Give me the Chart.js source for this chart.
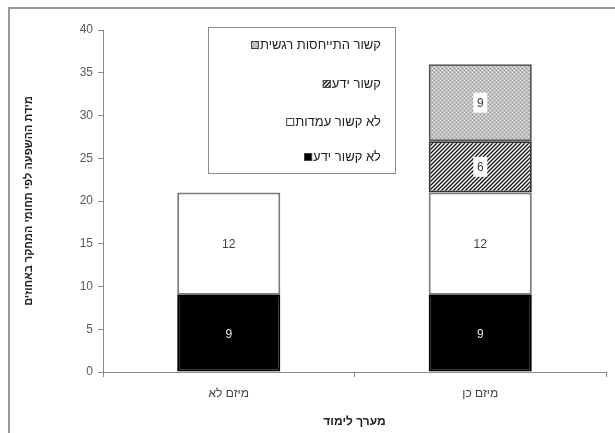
<!DOCTYPE html>
<html>
<head>
<meta charset="utf-8">
<script src="https://cdn.jsdelivr.net/npm/chart.js@4.4.1/dist/chart.umd.min.js"></script>
<style>
    body { margin: 0; background: #fff; }
    #wrap { position: relative; width: 615px; height: 433px; overflow: hidden; }
    #frame {
        position: absolute; left: 8px; top: 7px; width: 700px; height: 500px;
        border-top: 2px solid #9a9a9a; border-left: 2px solid #9a9a9a;
    }
    canvas { position: absolute; left: 0; top: 0; }
</style>
</head>
<body>
<div id="wrap">
    <div id="frame"></div>
    <canvas id="myChart" width="615" height="433"></canvas>
</div>
<script>
// data
const categories = ['מיזם לא', 'מיזם כן'];
const seriesNames = ['לא קשור ידע', 'לא קשור עמדות', 'קשור ידע', 'קשור התייחסות רגשית'];
const noLinkKnowledge = [9, 9];
const noLinkAttitudes = [12, 12];
const linkKnowledge = [null, 6];
const linkEmotional = [null, 9];
const yTicks = [0, 5, 10, 15, 20, 25, 30, 35, 40];
const yTitle = 'מידת ההשפעה לפי תחומי המחקר באחוזים';
const xTitle = 'מערך לימוד';

const FONT = "'Liberation Sans', 'DejaVu Sans', sans-serif";

// patterns
function makeHatch() {
    const c = document.createElement('canvas');
    c.width = 4; c.height = 4;
    const g = c.getContext('2d');
    g.fillStyle = '#fff';
    g.fillRect(0, 0, 4, 4);
    g.strokeStyle = '#111';
    g.lineWidth = 1.3;
    g.beginPath();
    g.moveTo(-1, 5); g.lineTo(5, -1);
    g.moveTo(-1, 1); g.lineTo(1, -1);
    g.moveTo(3, 5); g.lineTo(5, 3);
    g.stroke();
    return g.createPattern(c, 'repeat');
}

function makeDots() {
    const c = document.createElement('canvas');
    c.width = 4; c.height = 4;
    const g = c.getContext('2d');
    g.fillStyle = '#bfbfbf';
    g.fillRect(0, 0, 4, 4);
    g.fillStyle = '#e6e6e6';
    g.fillRect(0, 0, 1, 1);
    g.fillRect(2, 2, 1, 1);
    g.fillStyle = '#9a9a9a';
    g.fillRect(2, 0, 1, 1);
    g.fillRect(0, 2, 1, 1);
    return g.createPattern(c, 'repeat');
}

const hatch = makeHatch();
const dots = makeDots();

// value labels inside segments
const valueLabels = {
    id: 'valueLabels',
    afterDatasetsDraw(chart) {
        const ctx = chart.ctx;
        ctx.save();
        ctx.font = '12px ' + FONT;
        ctx.textAlign = 'center';
        ctx.textBaseline = 'middle';
        chart.data.datasets.forEach((ds, i) => {
            chart.getDatasetMeta(i).data.forEach((bar, j) => {
                const v = ds.data[j];
                if (v === null || v === 0) return;
                const x = bar.x;
                const y = (bar.y + bar.base) / 2;
                if (ds.boxLabel) { // white box behind the number
                    ctx.fillStyle = '#fff';
                    ctx.fillRect(x - 7, y - 10, 14, 20);
                }
                ctx.fillStyle = ds.labelColor;
                ctx.fillText(String(v), x, y + 1);
            });
        });
        ctx.restore();
    }
};

// legend box like the original
const boxLegend = {
    id: 'boxLegend',
    afterDraw(chart) {
        const ctx = chart.ctx;
        ctx.save();
        ctx.strokeStyle = '#8c8c8c';
        ctx.lineWidth = 1;
        ctx.fillStyle = '#fff';
        ctx.fillRect(208.5, 27.5, 187, 146);
        ctx.strokeRect(208.5, 27.5, 187, 146);
        ctx.font = '13px ' + FONT;
        ctx.textBaseline = 'middle';
        ctx.textAlign = 'right';
        const ys = [45, 84, 122, 157];
        const ds = chart.data.datasets.slice().reverse();
        ds.forEach((d, k) => {
            const y = ys[k];
            ctx.fillStyle = '#222';
            ctx.fillText(d.label, 381, y);
            const w = ctx.measureText(d.label).width;
            const mx = 381 - w - 9;
            ctx.fillStyle = d.backgroundColor;
            ctx.fillRect(mx, y - 4, 8, 8);
            ctx.strokeStyle = '#444';
            ctx.strokeRect(mx + 0.5, y - 3.5, 7, 7);
        });
        ctx.restore();
    }
};

const ctx = document.getElementById('myChart');
new Chart(ctx, {
    type: 'bar',
    data: {
        labels: categories,
        datasets: [
            { label: seriesNames[0], data: noLinkKnowledge, backgroundColor: '#000', borderColor: '#000', labelColor: '#e8e8e8' },
            { label: seriesNames[1], data: noLinkAttitudes, backgroundColor: '#fff', borderColor: '#7a7a7a', labelColor: '#404040' },
            { label: seriesNames[2], data: linkKnowledge, backgroundColor: hatch, borderColor: '#333', labelColor: '#404040', boxLabel: true },
            { label: seriesNames[3], data: linkEmotional, backgroundColor: dots, borderColor: '#555', labelColor: '#404040', boxLabel: true }
        ]
    },
    options: {
        responsive: false,
        animation: false,
        categoryPercentage: 1,
        barPercentage: 0.41,
        datasets: { bar: { borderWidth: 2, borderSkipped: false } },
        layout: { padding: { top: 30, right: 9, left: 0, bottom: 0 } },
        plugins: { legend: { display: false }, tooltip: { enabled: false } },
        scales: {
            x: {
                stacked: true,
                border: { color: '#8a8a8a' },
                grid: { drawOnChartArea: false, tickLength: 5, color: '#8a8a8a' },
                ticks: { color: '#404040', font: { family: FONT, size: 12 }, padding: 9 },
                title: { display: true, text: xTitle, color: '#222', font: { family: FONT, size: 12, weight: 'bold' }, padding: { top: 6 } },
                afterFit(s) { s.height = 61; }
            },
            y: {
                stacked: true,
                min: 0, max: 40,
                afterBuildTicks(s) { s.ticks = yTicks.map(v => ({ value: v })); },
                border: { color: '#8a8a8a' },
                grid: { drawOnChartArea: false, tickLength: 5, color: '#8a8a8a' },
                ticks: { color: '#595959', font: { family: FONT, size: 12 }, padding: 5 },
                title: { display: true, text: yTitle, color: '#222', font: { family: FONT, size: 11, weight: 'bold' }, padding: { top: 22 } },
                afterFit(s) { s.width = 103; }
            }
        }
    },
    plugins: [valueLabels, boxLegend]
});
</script>
</body>
</html>
